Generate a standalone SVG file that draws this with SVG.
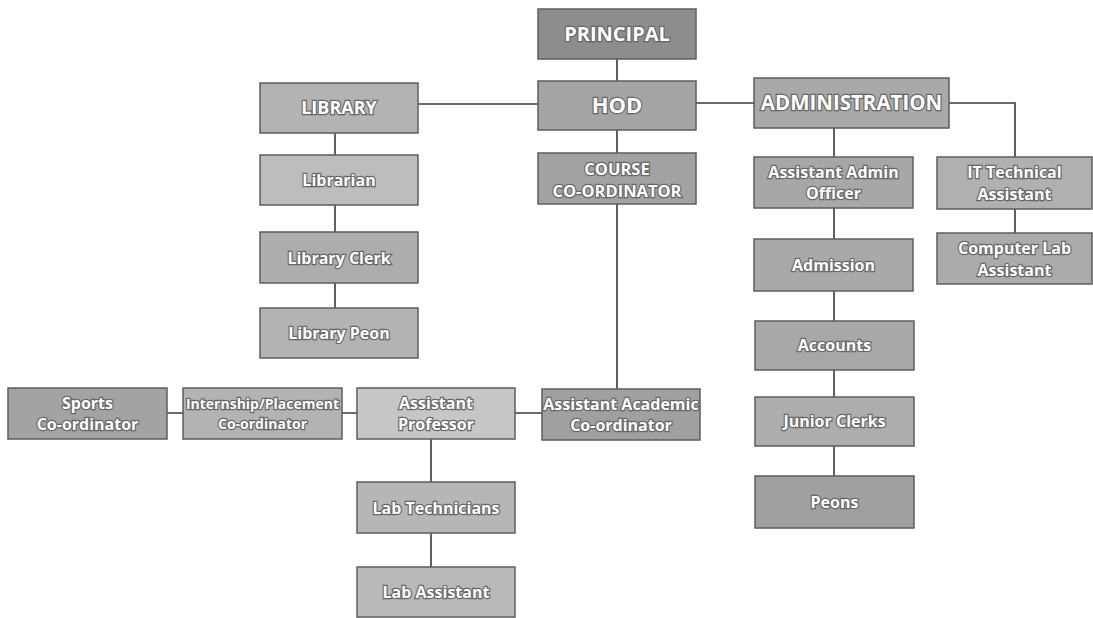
<svg xmlns="http://www.w3.org/2000/svg" width="1093" height="618" viewBox="0 0 1093 618">
<style>
.box{stroke:#5e5e5e;stroke-width:1.5}
.t{font-family:"Open Sans","Liberation Sans",sans-serif;font-weight:bold;fill:#ffffff;stroke:#666666;stroke-width:2.4;paint-order:stroke;text-anchor:middle}
.s{font-size:16px}
.h{font-size:16.5px}
.c{stroke:#3a3a3a;stroke-width:1.6;fill:none}
</style>
<rect width="1093" height="618" fill="#ffffff"/>
<g id="connectors">
<path class="c" d="M617 59V81M617 130V153M418 104H538M696 103H754M949 103H1015V157M335 133V155M335 205V232M335 283V308M617 204V389M834 128V157M834 208V239M834 291V321M834 370V397M834 446V476M1015 209V233M515 413H542M342 413H357M167 413H183M431 439V482M431 533V567"/>
</g>
<g id="principal"><rect class="box" x="538" y="9" width="158" height="50" fill="#8d8d8d"/><text class="t" style="font-size:20px" x="617" y="41">PRINCIPAL</text></g>
<g id="hod"><rect class="box" x="538" y="81" width="158" height="49" fill="#a5a5a5"/><text class="t" style="font-size:22px" x="617" y="113">HOD</text></g>
<g id="library"><rect class="box" x="260" y="83" width="158" height="50" fill="#b3b3b3"/><text class="t" style="font-size:18px" x="339" y="114">LIBRARY</text></g>
<g id="course"><rect class="box" x="538" y="153" width="158" height="51" fill="#a2a2a2"/><text class="t h" x="617" y="174.5">COURSE</text><text class="t h" x="617" y="197">CO-ORDINATOR</text></g>
<g id="administration"><rect class="box" x="754" y="78" width="195" height="50" fill="#a9a9a9"/><text class="t" style="font-size:20.5px" x="851.5" y="110">ADMINISTRATION</text></g>
<g id="asst-admin"><rect class="box" x="754" y="157" width="159" height="51" fill="#a7a7a7"/><text class="t s" x="833.5" y="178">Assistant Admin</text><text class="t s" x="833.5" y="199">Officer</text></g>
<g id="it-tech"><rect class="box" x="937" y="157" width="155" height="52" fill="#b0b0b0"/><text class="t s" x="1014.5" y="178">IT Technical</text><text class="t s" x="1014.5" y="200">Assistant</text></g>
<g id="computer-lab"><rect class="box" x="937" y="233" width="155" height="51" fill="#ababab"/><text class="t s" x="1014.5" y="254">Computer Lab</text><text class="t s" x="1014.5" y="276">Assistant</text></g>
<g id="admission"><rect class="box" x="754" y="239" width="159" height="52" fill="#a9a9a9"/><text class="t s" x="833.5" y="271">Admission</text></g>
<g id="accounts"><rect class="box" x="755" y="321" width="159" height="49" fill="#a8a8a8"/><text class="t s" x="834.5" y="351">Accounts</text></g>
<g id="junior-clerks"><rect class="box" x="755" y="397" width="159" height="49" fill="#adadad"/><text class="t s" x="834.5" y="427">Junior Clerks</text></g>
<g id="peons"><rect class="box" x="755" y="476" width="159" height="52" fill="#a0a0a0"/><text class="t s" x="834.5" y="508">Peons</text></g>
<g id="librarian"><rect class="box" x="260" y="155" width="158" height="50" fill="#bdbdbd"/><text class="t s" x="339" y="186">Librarian</text></g>
<g id="library-clerk"><rect class="box" x="260" y="232" width="158" height="51" fill="#adadad"/><text class="t s" x="339" y="264">Library Clerk</text></g>
<g id="library-peon"><rect class="box" x="260" y="308" width="158" height="50" fill="#b3b3b3"/><text class="t s" x="339" y="339">Library Peon</text></g>
<g id="sports"><rect class="box" x="8" y="388" width="159" height="51" fill="#a3a3a3"/><text class="t s" x="87.5" y="409">Sports</text><text class="t s" x="87.5" y="430">Co-ordinator</text></g>
<g id="internship"><rect class="box" x="183" y="388" width="159" height="51" fill="#b3b3b3"/><text class="t" style="font-size:14px" x="262.5" y="409">Internship/Placement</text><text class="t" style="font-size:14px" x="262.5" y="429">Co-ordinator</text></g>
<g id="asst-professor"><rect class="box" x="357" y="388" width="158" height="51" fill="#c6c6c6"/><text class="t s" x="436" y="409">Assistant</text><text class="t s" x="436" y="430">Professor</text></g>
<g id="asst-academic"><rect class="box" x="542" y="389" width="158" height="51" fill="#a0a0a0"/><text class="t s" x="621" y="410">Assistant Academic</text><text class="t s" x="621" y="431">Co-ordinator</text></g>
<g id="lab-technicians"><rect class="box" x="357" y="482" width="158" height="51" fill="#b6b6b6"/><text class="t s" x="436" y="514">Lab Technicians</text></g>
<g id="lab-assistant"><rect class="box" x="357" y="567" width="158" height="50" fill="#b9b9b9"/><text class="t s" x="436" y="598">Lab Assistant</text></g>
</svg>
